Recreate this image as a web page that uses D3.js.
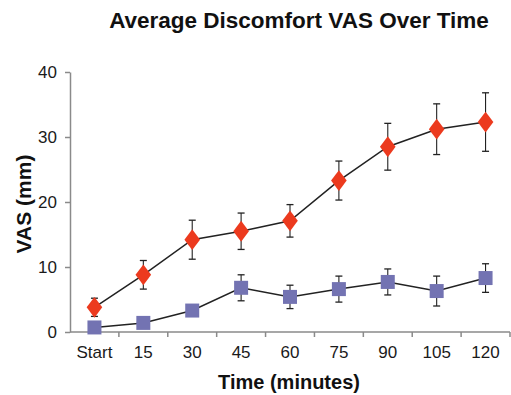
<!DOCTYPE html>
<html>
<head>
<meta charset="utf-8">
<script src="https://cdn.jsdelivr.net/npm/d3@7/dist/d3.min.js"></script>
<style>
  html, body { margin: 0; padding: 0; background: #fff; }
  svg { display: block; font-family: "Liberation Sans", Arial, sans-serif; }
</style>
</head>
<body>
<svg id="chart" width="511" height="395"></svg>
<script>
// Time points and mean VAS (mm) with SD half-widths per group
const times = ["Start", "15", "30", "45", "60", "75", "90", "105", "120"];
const redMean = [3.8, 8.8, 14.2, 15.5, 17.1, 23.3, 28.5, 31.2, 32.3];
const redErr  = [1.4, 2.2, 3.0, 2.8, 2.5, 3.0, 3.6, 3.9, 4.5];
const blueMean = [0.7, 1.4, 3.3, 6.8, 5.4, 6.6, 7.7, 6.3, 8.3];
const blueErr  = [0.0, 0.0, 0.0, 2.0, 1.8, 2.0, 2.0, 2.3, 2.2];
const yTicks = [0, 10, 20, 30, 40];

const svg = d3.select("#chart");
const plotL = 70, plotR = 510, plotT = 72, plotB = 332;

const x = d3.scaleBand().domain(times).range([plotL, plotR]).paddingInner(0).paddingOuter(0);
const y = d3.scaleLinear().domain([0, 40]).range([plotB, plotT]);
const cx = d => x(d) + x.bandwidth() / 2;

const axisColor = "#8a8a8a";
const textColor = "#1a1a1a";

// Title
svg.append("text")
  .attr("x", 299).attr("y", 28)
  .attr("text-anchor", "middle")
  .attr("font-size", 22.5).attr("font-weight", "bold").attr("fill", "#111")
  .text("Average Discomfort VAS Over Time");

// Y axis
const yAxis = svg.append("g")
  .attr("transform", `translate(${plotL},0)`)
  .call(d3.axisLeft(y).tickValues(yTicks).tickSize(5).tickPadding(8).tickSizeOuter(0));
yAxis.select(".domain").attr("stroke", axisColor).attr("stroke-width", 1.5);
yAxis.selectAll(".tick line").attr("stroke", axisColor).attr("stroke-width", 1.5);
yAxis.selectAll(".tick text").attr("font-size", 17).attr("fill", textColor)
  .attr("font-family", "Liberation Sans, Arial, sans-serif");

// X axis: ticks sit on band boundaries, labels at band centres
const xAxisG = svg.append("g").attr("transform", `translate(0,${plotB})`);
xAxisG.append("line")
  .attr("x1", plotL).attr("x2", plotR).attr("y1", 0).attr("y2", 0)
  .attr("stroke", axisColor).attr("stroke-width", 1.5);
const boundaries = times.map(t => x(t) + x.bandwidth());
xAxisG.selectAll("line.tk").data(boundaries).enter().append("line")
  .attr("class", "tk")
  .attr("x1", d => d).attr("x2", d => d).attr("y1", 0).attr("y2", 5)
  .attr("stroke", axisColor).attr("stroke-width", 1.5);
xAxisG.selectAll("text.lbl").data(times).enter().append("text")
  .attr("class", "lbl")
  .attr("x", d => cx(d)).attr("y", 26)
  .attr("text-anchor", "middle").attr("font-size", 17).attr("fill", textColor)
  .text(d => d);

// Axis titles
svg.append("text")
  .attr("x", 289).attr("y", 389)
  .attr("text-anchor", "middle").attr("font-size", 20).attr("font-weight", "bold").attr("fill", "#111")
  .text("Time (minutes)");
svg.append("text")
  .attr("transform", `translate(31,204) rotate(-90)`)
  .attr("text-anchor", "middle").attr("font-size", 21).attr("font-weight", "bold").attr("fill", "#111")
  .text("VAS (mm)");

function drawSeries(means, errs, color, shape) {
  const pts = times.map((t, i) => ({ t, m: means[i], e: errs[i] }));
  const g = svg.append("g");
  // error bars
  const eb = g.selectAll("g.eb").data(pts.filter(p => p.e > 0)).enter().append("g");
  eb.append("line")
    .attr("x1", p => cx(p.t)).attr("x2", p => cx(p.t))
    .attr("y1", p => y(p.m + p.e)).attr("y2", p => y(p.m - p.e))
    .attr("stroke", "#222").attr("stroke-width", 1.1);
  [1, -1].forEach(s => {
    eb.append("line")
      .attr("x1", p => cx(p.t) - 3.5).attr("x2", p => cx(p.t) + 3.5)
      .attr("y1", p => y(p.m + s * p.e)).attr("y2", p => y(p.m + s * p.e))
      .attr("stroke", "#222").attr("stroke-width", 1.3);
  });
  // connecting line
  g.append("path").datum(pts)
    .attr("d", d3.line().x(p => cx(p.t)).y(p => y(p.m)))
    .attr("fill", "none").attr("stroke", "#222").attr("stroke-width", 1.5);
  // markers
  const sym = d3.symbol().type(shape === "square" ? d3.symbolSquare : d3.symbolDiamond)
    .size(shape === "square" ? 196 : 125);
  g.selectAll("path.mk").data(pts).enter().append("path")
    .attr("class", "mk")
    .attr("transform", p => `translate(${cx(p.t)},${y(p.m)})` + (shape === "diamond" ? " scale(1.3,1)" : ""))
    .attr("d", sym())
    .attr("fill", color);
}

drawSeries(blueMean, blueErr, "#7373b2", "square");
drawSeries(redMean, redErr, "#ec3a1e", "diamond");
</script>
</body>
</html>
